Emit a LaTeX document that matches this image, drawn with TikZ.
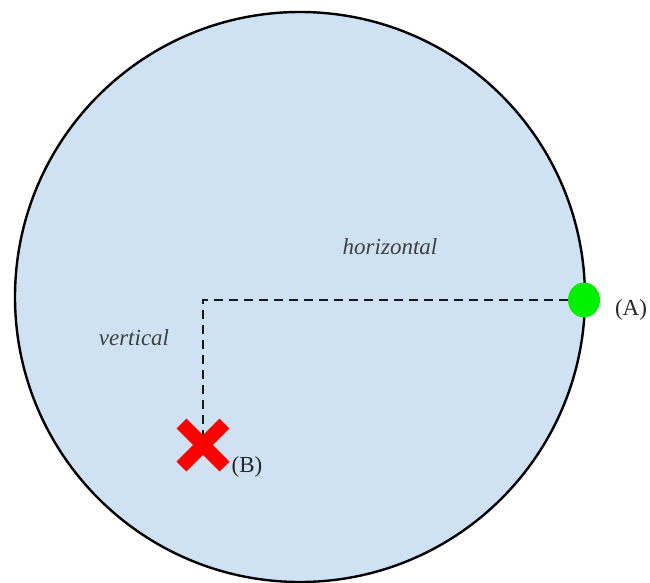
\documentclass[tikz,border=0pt]{standalone}
\usepackage{fontspec}
\setmainfont{Liberation Serif}
\usetikzlibrary{shapes.misc,shapes.geometric}
\definecolor{diskblue}{HTML}{CFE2F3}
\definecolor{dotgreen}{HTML}{00F000}
\definecolor{xred}{HTML}{FF0000}
\tikzset{
  disk/.style={circle, draw=black, line width=2.4pt, fill=diskblue, minimum size=570pt, inner sep=0pt},
  greendot/.style={ellipse, fill=dotgreen, minimum width=32pt, minimum height=35pt, inner sep=0pt},
  xmark/.style={cross out, draw=xred, line width=14pt, minimum size=29pt, inner sep=0pt},
  path/.style={line width=2.4pt, dash pattern=on 9pt off 6pt, black!90},
  lbl/.style={font=\fontsize{23}{26}\selectfont, text=black!85, inner sep=0pt},
  wordlbl/.style={font=\fontsize{23}{26}\selectfont\itshape, text=black!75, inner sep=0pt}
}
\begin{document}
\begin{tikzpicture}[x=1pt,y=-1pt]
\useasboundingbox (0,0) rectangle (650,583);
\node[disk] (disk) at (300,297) {};
\node[greendot] (A) at (584,300) {};
\coordinate (Bc) at (203,445);
\draw[path] (A.west) -| (Bc);
\node[xmark] (B) at (Bc) {};
\node[lbl] (labA) at (631,310) {(A)};
\node[lbl] (labB) at (247,467) {(B)};
\node[wordlbl] (horiz) at (390,247) {horizontal};
\node[wordlbl] (vert) at (134,338) {vertical};
\end{tikzpicture}
\end{document}
